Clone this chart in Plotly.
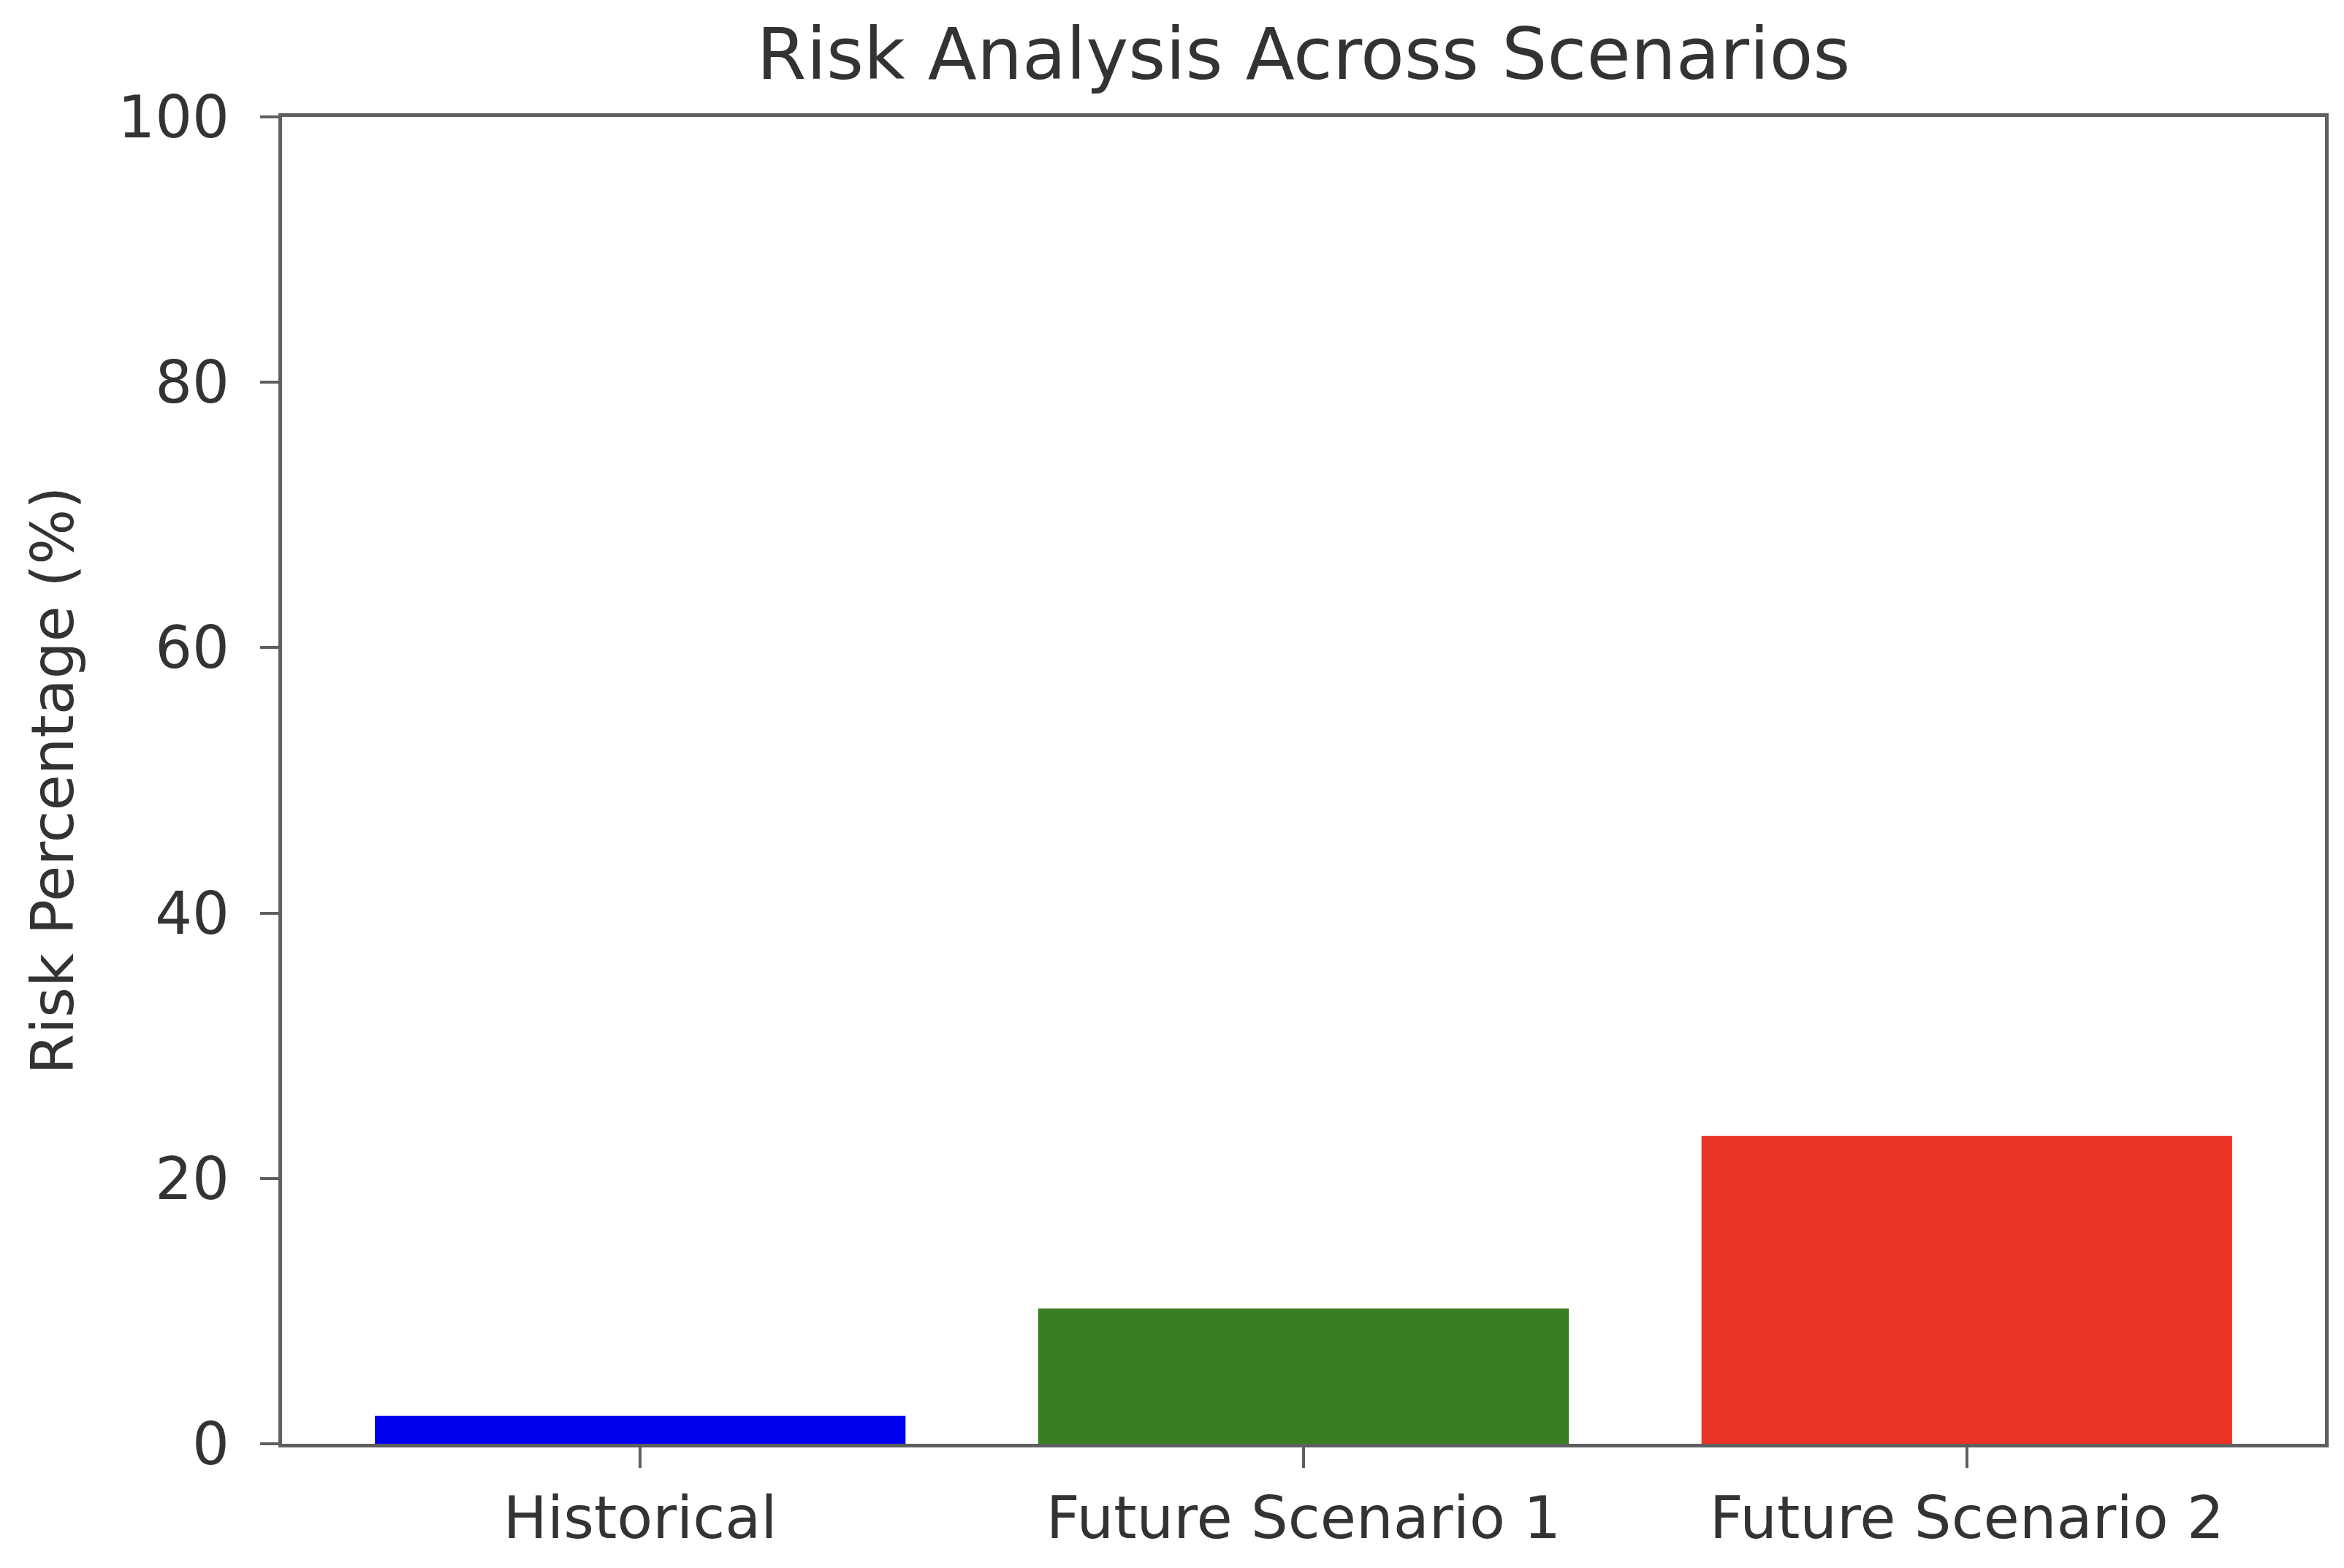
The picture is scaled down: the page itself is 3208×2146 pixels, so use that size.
import plotly.graph_objects as go

categories = ["Historical", "Future Scenario 1", "Future Scenario 2"]
risk_values = [2.1, 10.2, 23.2]
bar_colors = ["#0000F0", "#3A7D22", "#E93324"]
y_ticks = [0, 20, 40, 60, 80, 100]

FONT = "DejaVu Sans"
TXT = "#333333"
AX = "#5f5f5f"

fig = go.Figure(
    go.Bar(
        x=categories,
        y=risk_values,
        marker=dict(color=bar_colors, line=dict(width=0)),
        width=0.8,
        showlegend=False,
    )
)

fig.update_layout(
    width=3208,
    height=2146,
    margin=dict(l=378, r=34, t=152, b=178),
    paper_bgcolor="white",
    plot_bgcolor="white",
    font=dict(family=FONT, color=TXT, size=80),
    title=dict(
        text="Risk Analysis Across Scenarios",
        x=0.5,
        xref="paper",
        xanchor="center",
        y=1 - 66 / 2146,
        yanchor="middle",
        font=dict(family=FONT, size=98, color=TXT),
    ),
)

fig.update_xaxes(
    type="category",
    range=[-0.54, 2.54],
    showline=True,
    linecolor=AX,
    linewidth=5,
    mirror=True,
    ticks="outside",
    ticklen=28,
    tickwidth=4,
    tickcolor=AX,
    showgrid=False,
    zeroline=False,
    tickfont=dict(family=FONT, size=80, color=TXT),
    ticklabelstandoff=0,
)

fig.update_yaxes(
    range=[0, 100],
    tickvals=y_ticks,
    showline=True,
    linecolor=AX,
    linewidth=5,
    mirror=True,
    ticks="outside",
    ticklen=25,
    tickwidth=4,
    tickcolor=AX,
    showgrid=False,
    zeroline=False,
    tickfont=dict(family=FONT, size=80, color=TXT),
    ticklabelstandoff=26,
    title=dict(
        text="Risk Percentage (%)",
        font=dict(family=FONT, size=80, color=TXT),
        standoff=36,
    ),
)

fig.write_html("out.html")
